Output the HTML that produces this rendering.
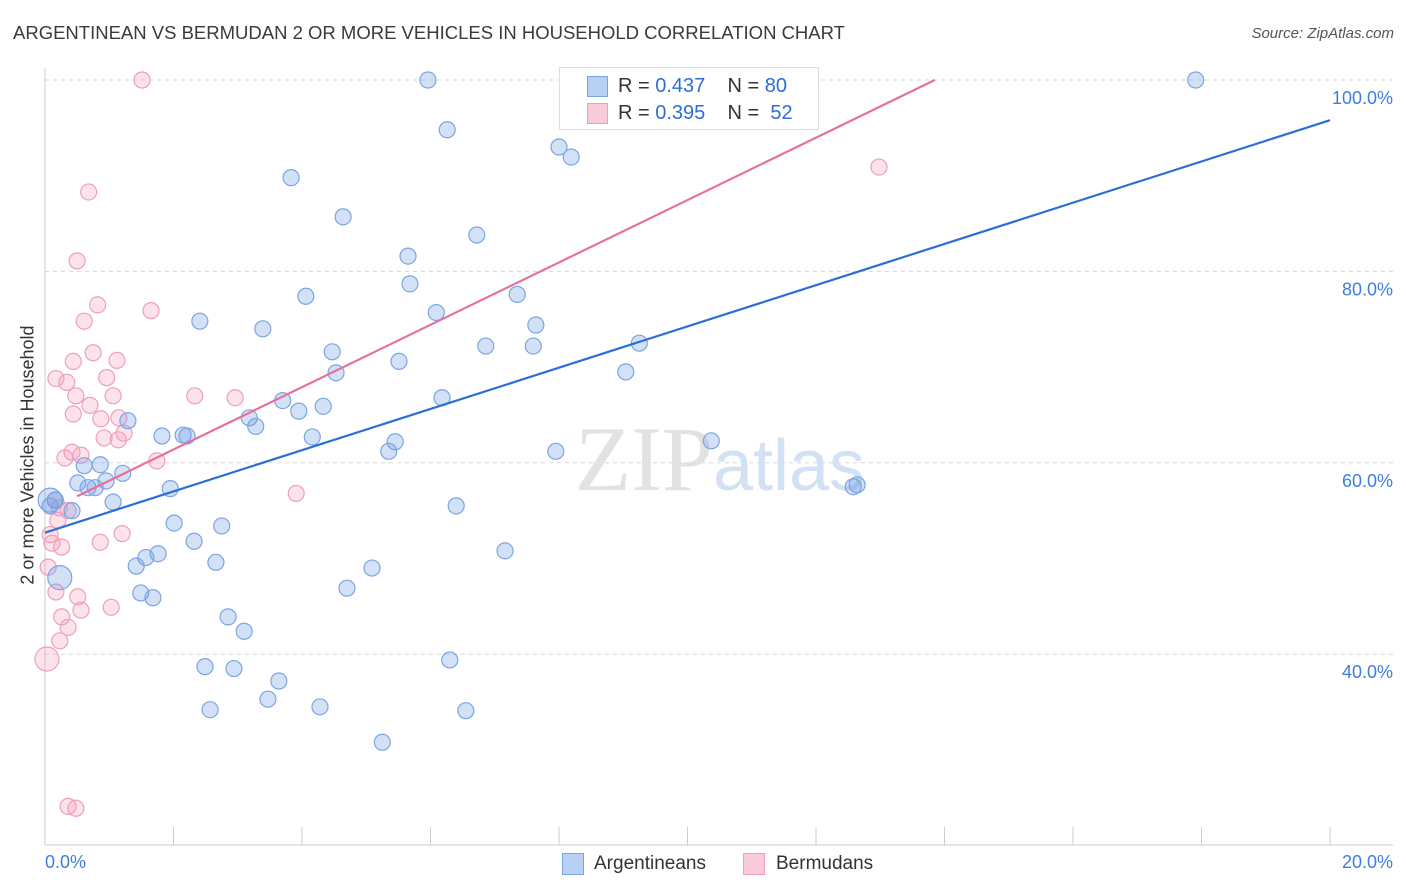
<!DOCTYPE html>
<html><head><meta charset="utf-8"><style>
body{margin:0;background:#fff;font-family:"Liberation Sans",sans-serif;}
#wrap{position:relative;width:1406px;height:892px;overflow:hidden;}
.t{position:absolute;white-space:nowrap;}
</style></head><body>
<div id="wrap">
<div class="t" style="left:13px;top:22px;font-size:18.5px;color:#3a3a3a;">ARGENTINEAN VS BERMUDAN 2 OR MORE VEHICLES IN HOUSEHOLD CORRELATION CHART</div>
<div class="t" style="right:12px;top:25px;font-size:15px;color:#555;font-style:italic;">Source: ZipAtlas.com</div>
<svg id="svg" width="1406" height="892" style="position:absolute;left:0;top:0"></svg>
</div>
<script>
const xTicks=[0,2,4,6,8,10,12,14,16,18,20];
const yTicks=[40,60,80,100];
const yTickLabels=["40.0%","60.0%","80.0%","100.0%"];
const blueX=[5.96,17.91,6.26,8.0,8.19,3.83,4.64,6.72,5.65,5.68,4.06,7.35,2.41,6.09,3.39,7.64,6.86,7.6,9.25,4.47,5.51,4.53,9.04,3.7,3.95,4.33,6.18,3.18,3.28,1.29,1.82,2.15,2.21,4.16,5.45,5.35,7.95,10.37,0.61,0.86,1.21,0.95,0.51,0.67,0.78,1.95,12.58,12.64,1.06,0.16,0.08,0.42,2.01,2.75,6.4,2.32,1.76,1.57,1.42,2.66,7.16,5.09,4.7,1.49,1.68,2.85,3.1,2.49,2.94,6.3,3.64,3.47,2.57,4.28,6.55,5.25,0.23,0.08];
const blueY=[100,100,94.8,93.0,91.95,89.8,85.7,83.8,81.6,78.7,77.4,77.6,74.8,75.7,74.0,74.4,72.2,72.2,72.5,71.6,70.6,69.4,69.5,66.5,65.4,65.9,66.8,64.7,63.8,64.4,62.8,62.9,62.8,62.7,62.2,61.2,61.2,62.3,59.7,59.8,58.9,58.1,57.9,57.4,57.4,57.3,57.5,57.7,55.9,56.1,55.5,55.0,53.7,53.4,55.5,51.8,50.5,50.1,49.2,49.6,50.8,49.0,46.9,46.4,45.9,43.9,42.4,38.7,38.5,39.4,37.2,35.3,34.2,34.5,34.1,30.8,48.0,56.1];
const blueBig=[76,77];
const pinkX=[1.51,0.68,0.5,0.82,1.65,0.61,0.75,0.44,1.12,0.17,0.34,0.96,2.33,2.96,1.06,0.48,0.7,0.44,0.87,1.15,1.23,0.92,1.14,0.31,0.42,0.56,1.74,3.91,12.98,0.16,0.22,0.36,0.2,0.08,0.11,0.26,0.86,1.2,0.05,0.17,0.51,1.03,0.56,0.26,0.36,0.23,0.03,0.36,0.48];
const pinkY=[100,88.3,81.1,76.5,75.9,74.8,71.5,70.6,70.7,68.8,68.4,68.9,67.0,66.8,67.0,67.0,66.0,65.1,64.6,64.7,63.1,62.6,62.4,60.5,61.1,60.8,60.2,56.8,90.9,56.1,55.3,55.0,54.0,52.5,51.6,51.2,51.7,52.6,49.1,46.5,46.0,44.9,44.6,43.9,42.8,41.4,39.5,24.1,23.9];
const pinkBig=[46];
const blueLine=[[0,52.7],[20,95.8]];
const pinkLine=[[0.5,56.5],[13.85,100]];

const svg=document.getElementById('svg');const NS='http://www.w3.org/2000/svg';
const X=v=>45+v*64.25, Y=v=>80+(100-v)*9.57;
function mk(t,a,p){const e=document.createElementNS(NS,t);for(const k in a)e.setAttribute(k,a[k]);(p||svg).appendChild(e);return e;}
yTicks.forEach((v,i)=>{
 const g=mk('line',{x1:45,x2:1393,y1:Y(v),y2:Y(v),stroke:'#d8d8d8','stroke-dasharray':'4,4'});
 
 
 const t=mk('text',{x:1393,y:Y(v)+24,'text-anchor':'end','font-size':18,fill:'#3d7ee0','font-family':'Liberation Sans'});
 t.textContent=yTickLabels[i];
 
 
});
const ax=mk('line',{x1:45,x2:1393,y1:845,y2:845,stroke:'#ccc'});


const ay=mk('line',{x1:45,x2:45,y1:68,y2:845,stroke:'#ccc'});


xTicks.forEach(v=>{const l=mk('line',{x1:X(v),x2:X(v),y1:827,y2:845,stroke:'#ccc'});
 
 });
const wm=mk('text',{x:720,y:490,'text-anchor':'middle','font-size':92,fill:'#e2e2e2','font-family':'Liberation Serif'});
wm.innerHTML='ZIP<tspan font-family="Liberation Sans" font-size="72" fill="#d3e1f5">atlas</tspan>';


function pts(xs,ys,big,fill,stroke,name){xs.forEach((x,i)=>{const c=mk('circle',{cx:X(x),cy:Y(ys[i]),r:big.includes(i)?12:8,fill:fill,stroke:stroke,'stroke-width':1.2});
 
 });}
pts(pinkX,pinkY,pinkBig,'rgba(244,160,190,0.3)','#eea0b8','bermudan-point');
pts(blueX,blueY,blueBig,'rgba(110,155,230,0.3)','#7aa5e3','argentinean-point');
const bl=mk('line',{x1:X(blueLine[0][0]),y1:Y(blueLine[0][1]),x2:X(blueLine[1][0]),y2:Y(blueLine[1][1]),stroke:'#2a6fd8','stroke-width':2.2});


const pl=mk('line',{x1:X(pinkLine[0][0]),y1:Y(pinkLine[0][1]),x2:X(pinkLine[1][0]),y2:Y(pinkLine[1][1]),stroke:'#e8709a','stroke-width':2.2});


</script>
<div class="t" style="top:455px;transform:translate(-50%,-50%) rotate(-90deg);transform-origin:center;font-size:18px;color:#333;left:28px;">2 or more Vehicles in Household</div>
<div class="t" style="left:45px;top:852px;font-size:18px;color:#3d7ee0;">0.0%</div>
<div class="t" style="right:13px;top:852px;font-size:18px;color:#3d7ee0;">20.0%</div>
<div style="position:absolute;left:559px;top:67px;width:258px;height:61px;border:1px solid #ddd;background:#fff;font-size:20px;">
 <div style="position:absolute;left:27px;top:8px;width:19px;height:19px;background:#b8d0f3;border:1px solid #7aa5e3;"></div>
 <div class="t" style="left:58px;top:7px;color:#333;">R = <span style="color:#2a6fd8">0.437</span>&nbsp;&nbsp;&nbsp; N = <span style="color:#2a6fd8">80</span></div>
 <div style="position:absolute;left:27px;top:35px;width:19px;height:19px;background:#f9cbd9;border:1px solid #eea0b8;"></div>
 <div class="t" style="left:58px;top:34px;color:#333;">R = <span style="color:#2a6fd8">0.395</span>&nbsp;&nbsp;&nbsp; N = &nbsp;<span style="color:#2a6fd8">52</span></div>
</div>
<div style="position:absolute;left:562px;top:853px;width:20px;height:20px;background:#b8d0f3;border:1px solid #7aa5e3;"></div>
<div class="t" style="left:594px;top:853px;font-size:19px;color:#333;">Argentineans</div>
<div style="position:absolute;left:743px;top:853px;width:20px;height:20px;background:#f9cbd9;border:1px solid #eea0b8;"></div>
<div class="t" style="left:776px;top:853px;font-size:19px;color:#333;">Bermudans</div>
</body></html>
